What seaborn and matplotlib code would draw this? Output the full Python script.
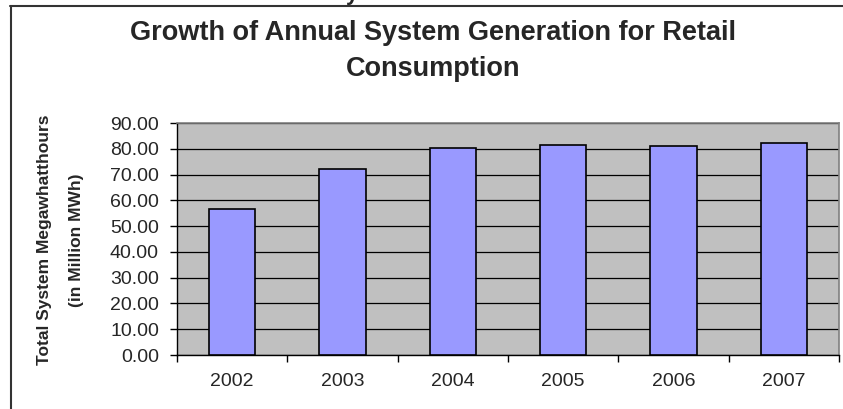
import matplotlib
matplotlib.use("Agg")
import matplotlib.pyplot as plt
import seaborn as sns
import pandas as pd
from matplotlib.lines import Line2D

# Datos
years = ["2002", "2003", "2004", "2005", "2006", "2007"]
generation = [56.6, 72.0, 80.4, 81.6, 80.9, 82.1]
y_ticks = [0, 10, 20, 30, 40, 50, 60, 70, 80, 90]

title = "Growth of Annual System Generation for Retail\nConsumption"
ylabel_1 = "Total System Megawhatthours"
ylabel_2 = "(in Million MWh)"

df = pd.DataFrame({"year": years, "mwh": generation})

sns.set_style("white")
plt.rcParams["font.family"] = ["Liberation Sans", "DejaVu Sans"]

fig = plt.figure(figsize=(8.43, 4.09), dpi=100)
ax = fig.add_axes([177 / 843, 1 - 355 / 409, (839 - 177) / 843, (355 - 123) / 409])
ax.set_facecolor("#C0C0C0")

sns.barplot(data=df, x="year", y="mwh", color="#9999FF", edgecolor="black",
            linewidth=1.2, width=0.42, saturation=1, ax=ax, zorder=3)

# Ejes
ax.set_ylim(0, 90)
ax.set_xlim(-0.5, len(years) - 0.5)
ax.set_yticks(y_ticks)
ax.set_yticklabels([f"{v:.2f}" for v in y_ticks], fontsize=14)
ax.set_xticklabels(years, fontsize=14)
ax.set_xlabel("")
ax.set_ylabel("")

ax.yaxis.grid(True, color="black", linewidth=0.9, zorder=0)
ax.set_axisbelow(True)

ax.tick_params(axis="y", which="major", direction="out", length=5, width=1,
               color="black", pad=8, left=True)
ax.set_xticks([i - 0.5 for i in range(len(years) + 1)], minor=True)
ax.tick_params(axis="x", which="major", length=0, pad=13)
ax.tick_params(axis="x", which="minor", direction="out", length=5, width=1,
               color="black", bottom=True)

for side in ["top", "right"]:
    ax.spines[side].set_color("#808080")
    ax.spines[side].set_linewidth(1.2)
for side in ["left", "bottom"]:
    ax.spines[side].set_color("black")
    ax.spines[side].set_linewidth(1.0)

# Titulo y etiquetas del eje y
fig.text(433 / 843, 1 - 51 / 409, title, ha="center", va="center",
         fontsize=19.5, fontweight="bold", linespacing=1.45)
fig.text(45 / 843, 1 - 240 / 409, ylabel_1, rotation=90, ha="center",
         va="center", fontsize=12.5, fontweight="bold")
fig.text(77 / 843, 1 - 240 / 409, ylabel_2, rotation=90, ha="center",
         va="center", fontsize=12.5, fontweight="bold")

# Restos de texto cortado arriba y borde del grafico
fig.text(352 / 843, 1 + 0.5 / 409, "y", ha="center", va="baseline",
         fontsize=16, fontweight="bold")
fig.add_artist(Line2D([10.5 / 843, 10.5 / 843], [0, 1 - 6 / 409],
                      transform=fig.transFigure, color="#333333", linewidth=1.5))
fig.add_artist(Line2D([10 / 843, 1], [1 - 6 / 409, 1 - 6 / 409],
                      transform=fig.transFigure, color="#333333", linewidth=1.5))

fig.savefig("out.png", dpi=100)
plt.close(fig)
